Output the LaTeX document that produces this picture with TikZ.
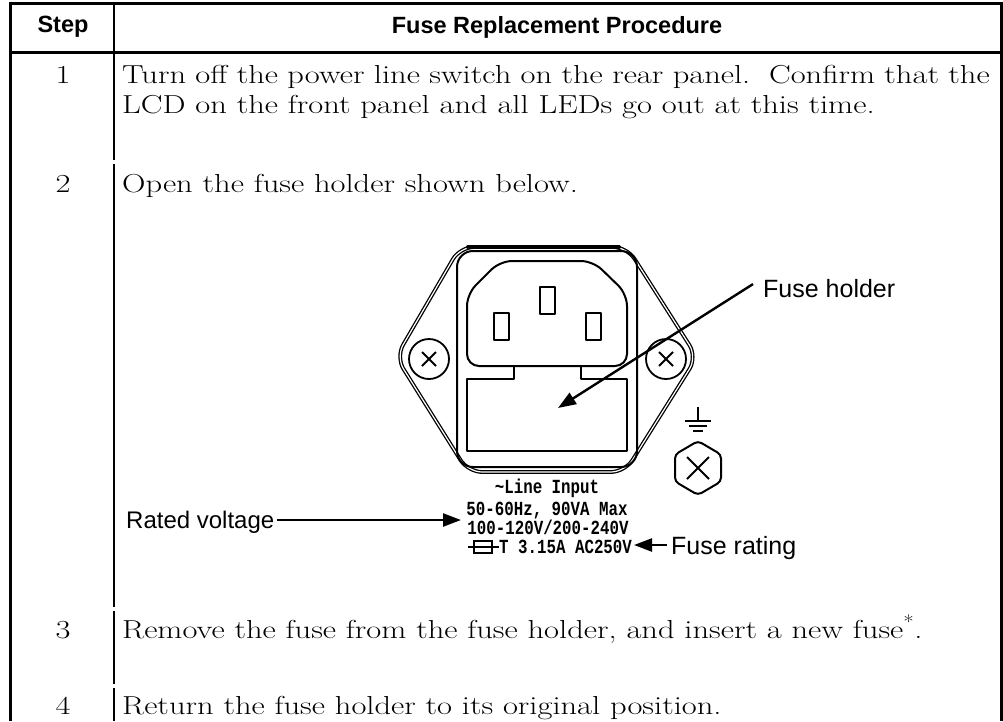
\documentclass[tikz,border=0pt]{standalone}
\usepackage{fontspec}
\usepackage{graphicx}
\newfontfamily\arialf{Liberation Sans}
\newfontfamily\monof{Liberation Mono}
\usetikzlibrary{arrows.meta}
\newcommand{\bodytxt}[1]{\scalebox{1.25}[1]{#1}}
\newcommand{\printtxt}[1]{\scalebox{0.79}[1]{#1}}
\begin{document}
\begin{tikzpicture}[x=1pt,y=-1pt,
 tblline/.style={line width=3pt},
 divline/.style={line width=2.2pt},
 hdr/.style={font=\arialf\bfseries\fontsize{23.5}{26}\selectfont, inner sep=0},
 body/.style={font=\fontsize{26}{30}\selectfont, inner sep=0, anchor=base west},
 num/.style={font=\fontsize{26}{30}\selectfont, inner sep=0, anchor=base},
 lbl/.style={font=\arialf\fontsize{25}{28}\selectfont, inner sep=0, anchor=base west},
 prt/.style={font=\monof\bfseries\fontsize{20}{20}\selectfont, inner sep=0, anchor=base},
 part/.style={line width=2pt, line join=round},
 pointer/.style={line width=2.4pt, -{Triangle[length=18pt,width=13pt]}},
]
\useasboundingbox (0,0) rectangle (1003,721);
% table
\draw[tblline] (10,721) -- (10,3) -- (1001,3) -- (1001,721);
\draw[tblline] (10,52) -- (1001,52);
\draw[divline] (114,3) -- (114,160) (114,164) -- (114,607) (114,611) -- (114,684) (114,688) -- (114,721);
% header
\node[hdr] (hstep) at (63,27) {Step};
\node[hdr] (hproc) at (557,27) {Fuse Replacement Procedure};
% rows
\node[num] (n1) at (63,83) {\bodytxt{1}};
\node[body] (t1a) at (122,83) {\bodytxt{\makebox[694pt][s]{Turn off the power line switch on the rear panel.\ \ Confirm that the}}};
\node[body] (t1b) at (122,113) {\bodytxt{LCD on the front panel and all LEDs go out at this time.}};
\node[num] (n2) at (63,192) {\bodytxt{2}};
\node[body] (t2) at (122,192) {\bodytxt{Open the fuse holder shown below.}};
\node[num] (n3) at (63,638) {\bodytxt{3}};
\node[body] (t3) at (122,638) {\bodytxt{Remove the fuse from the fuse holder, and insert a new fuse\textsuperscript{*}.}};
\node[num] (n4) at (63,714) {\bodytxt{4}};
\node[body] (t4) at (122,714) {\bodytxt{Return the fuse holder to its original position.}};
% fuse holder drawing
\draw[line width=1.3pt, double, double distance=1.2pt, rounded corners=14pt]
  (544,247) -- (627,247) -- (697,357) -- (625,472) -- (468,472) -- (396,357) -- (460,247) -- cycle;
\draw[line width=4pt, line cap=round] (468,247) -- (619,247);
\draw[part, rounded corners=16pt] (457,251) rectangle (637,467);
\draw[part, rounded corners=12pt] (546,261) -- (593,261) -- (627,294) -- (627,366) -- (467,366) -- (467,294) -- (500,261) -- cycle;
\draw[part] (540,287) rectangle (555,314);
\draw[part] (494,313) rectangle (509,340);
\draw[part] (586,313) rectangle (601,340);
\draw[part] (514,366) -- (514,379) -- (467,379) -- (467,451) -- (627,451) -- (627,379) -- (581,379) -- (581,366);
% screws
\draw[line width=1.8pt] (429,359) circle (20);
\draw[line width=1.8pt] (422,352) -- (436,366) (422,366) -- (436,352);
\draw[line width=1.8pt] (666,359) circle (20);
\draw[line width=1.8pt] (659,352) -- (673,366) (659,366) -- (673,352);
% ground
\draw[part] (698,407) -- (698,421);
\draw[part] (685,421) -- (711,421) (689,426) -- (707,426) (693,431) -- (703,431);
\draw[part, rounded corners=4pt] (698,441) -- (721,454.5) -- (721,481.5) -- (698,495) -- (675,481.5) -- (675,454.5) -- cycle;
\draw[line width=1.8pt] (687,457) -- (709,479) (687,479) -- (709,457);
% panel print
\node[prt] (p1) at (547,493) {\printtxt{\textasciitilde Line Input}};
\node[prt] (p2) at (547,515) {\printtxt{50-60Hz, 90VA Max}};
\node[prt] (p3) at (548,534) {\printtxt{100-120V/200-240V}};
\node[prt, anchor=base west] (p4) at (499,553) {\printtxt{T 3.15A AC250V}};
\draw[line width=1.6pt] (468,547) -- (499,547);
\draw[line width=1.6pt] (474,541) rectangle (492,553);
% labels and pointers
\node[lbl] (fhl) at (763,297) {Fuse holder};
\coordinate (fhtip) at (558,408);
\draw[pointer] ([xshift=-10pt,yshift=4pt]fhl.west) -- (fhtip);
\node[lbl, font=\arialf\fontsize{24}{26}\selectfont] (rvl) at (126,528) {Rated voltage};
\coordinate (rvtip) at (461,520);
\draw[pointer] ([xshift=2pt]rvl.east |- rvtip) -- (rvtip);
\node[lbl] (frl) at (671,554) {Fuse rating};
\coordinate (frtip) at (634,545);
\draw[pointer] ([xshift=-4pt]frl.west |- frtip) -- (frtip);
\end{tikzpicture}
\end{document}
